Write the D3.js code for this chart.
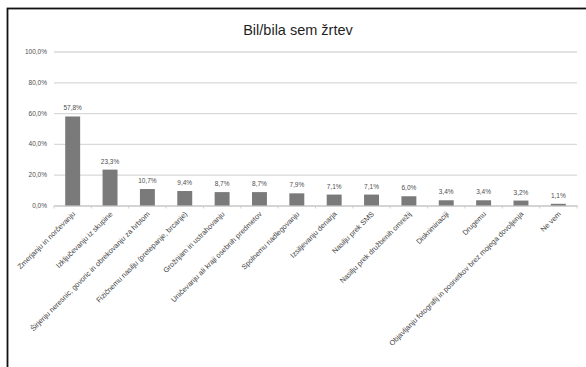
<!DOCTYPE html>
<html>
<head>
<meta charset="utf-8">
<script src="https://cdn.jsdelivr.net/npm/d3@7"></script>
<style>
  html, body { margin: 0; padding: 0; background: #fff; }
  svg { display: block; font-family: "Liberation Sans", Arial, sans-serif; }
</style>
</head>
<body>
<svg id="chart" width="586" height="367"></svg>
<script>
// Oblike nasilja, ki so jih doživeli anketiranci (delež odgovorov)
const categories = [
  "Zmerjanju in norčevanju",
  "Izključevanju iz skupine",
  "Širjenju neresnic, govoric in obrekovanju za hrbtom",
  "Fizičnemu nasilju (pretepanje, brcanje)",
  "Grožnjam in ustrahovanju",
  "Uničevanju ali kraji osebnih predmetov",
  "Spolnemu nadlegovanju",
  "Izsiljevanju denarja",
  "Nasilju prek SMS",
  "Nasilju prek družbenih omrežij",
  "Diskriminaciji",
  "Drugemu",
  "Objavljanju fotografij in posnetkov brez mojega dovoljenja",
  "Ne vem"
];
const values = [57.8, 23.3, 10.7, 9.4, 8.7, 8.7, 7.9, 7.1, 7.1, 6.0, 3.4, 3.4, 3.2, 1.1];
const yTicks = [0, 20, 40, 60, 80, 100];
const title = "Bil/bila sem žrtev";

const fmt = v => v.toFixed(1).replace(".", ",") + "%";

const svg = d3.select("#chart");

// okvir grafa
svg.append("rect")
  .attr("x", 7.5).attr("y", 8.5)
  .attr("width", 600).attr("height", 400)
  .attr("fill", "#fff").attr("stroke", "#111").attr("stroke-width", 1.8);

const plot = { left: 54, right: 577, top: 51.5, bottom: 205.5 };

const x = d3.scaleBand()
  .domain(categories)
  .range([plot.left, plot.right])
  .paddingInner(0.6)
  .paddingOuter(0.3);

const y = d3.scaleLinear()
  .domain([0, 100])
  .range([plot.bottom, plot.top]);

// naslov
svg.append("text")
  .attr("x", 298).attr("y", 35)
  .attr("text-anchor", "middle")
  .attr("font-size", 14.5)
  .attr("fill", "#1f1f1f")
  .text(title);

// mreža in oznake osi y
const yAxis = d3.axisLeft(y)
  .tickValues(yTicks)
  .tickSize(-(plot.right - plot.left))
  .tickPadding(7)
  .tickFormat(fmt);

const gy = svg.append("g")
  .attr("transform", `translate(${plot.left},0)`)
  .call(yAxis);
gy.select(".domain").remove();
gy.selectAll(".tick line").attr("stroke", "#d9d9d9").attr("stroke-width", 1.3);
gy.selectAll(".tick text").attr("fill", "#4d4d4d").attr("font-size", 6.5);

// os x
const gx = svg.append("g")
  .attr("transform", `translate(0,${plot.bottom})`)
  .call(d3.axisBottom(x).tickSize(0).tickFormat(""));
gx.select(".domain").attr("stroke", "#cfcfcf").attr("stroke-width", 1.3);

// kratke razmejitve med kategorijami
const sep = d3.range(categories.length + 1).map(i => plot.left + i * x.step() * 0 + i * (plot.right - plot.left) / categories.length);
svg.append("g").selectAll("line")
  .data(sep)
  .join("line")
  .attr("x1", d => d).attr("x2", d => d)
  .attr("y1", plot.bottom)
  .attr("y2", plot.bottom + 3)
  .attr("stroke", "#cfcfcf");

// stolpci
svg.append("g").selectAll("rect")
  .data(values)
  .join("rect")
  .attr("x", (d, i) => x(categories[i]))
  .attr("width", x.bandwidth())
  .attr("y", d => y(d))
  .attr("height", d => y(0) - y(d))
  .attr("fill", "#7a7a7a");

// oznake vrednosti
svg.append("g").selectAll("text")
  .data(values)
  .join("text")
  .attr("x", (d, i) => x(categories[i]) + x.bandwidth() / 2)
  .attr("y", d => y(d) - 6)
  .attr("text-anchor", "middle")
  .attr("font-size", 6.5)
  .attr("fill", "#4d4d4d")
  .text(fmt);

// nagnjene oznake kategorij
svg.append("g").selectAll("text")
  .data(categories)
  .join("text")
  .attr("transform", d => `translate(${x(d) + x.bandwidth() / 2 + 3},${plot.bottom + 9}) rotate(-45)`)
  .attr("text-anchor", "end")
  .attr("font-size", 7.3)
  .attr("fill", "#444")
  .text(d => d);
</script>
</body>
</html>
